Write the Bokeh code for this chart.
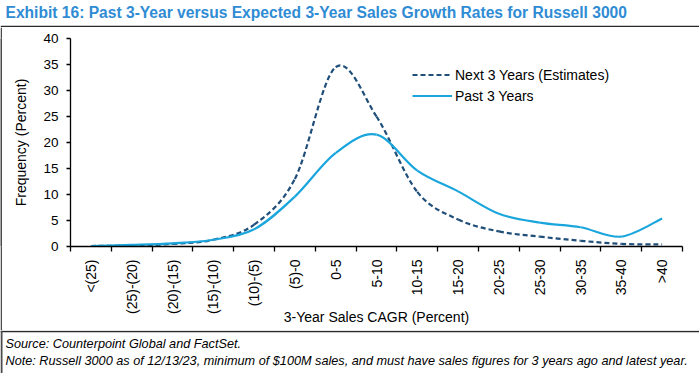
import math
from bokeh.plotting import figure
from bokeh.layouts import column, row
from bokeh.models import (Range1d, FixedTicker, Label, Span, Legend, LegendItem,
                          ColumnDataSource)
from bokeh.embed import file_html
from bokeh.resources import INLINE

# ---- data ----
categories = ["<(25)", "(25)-(20)", "(20)-(15)", "(15)-(10)", "(10)-(5)", "(5)-0",
              "0-5", "5-10", "10-15", "15-20", "20-25", "25-30", "30-35", "35-40", ">40"]
next_3_years = [0.1, 0.2, 0.5, 1.3, 4.2, 13.0, 34.5, 25.0, 10.5, 5.2, 2.9, 1.9, 1.1, 0.5, 0.4]
past_3_years = [0.1, 0.3, 0.6, 1.3, 3.3, 9.6, 18.0, 21.5, 14.6, 10.6, 6.3, 4.6, 3.7, 1.9, 5.4]
y_ticks = [0, 5, 10, 15, 20, 25, 30, 35, 40]

title_text = "Exhibit 16: Past 3-Year versus Expected 3-Year Sales Growth Rates for Russell 3000"
source_text = "Source: Counterpoint Global and FactSet."
note_text = ("Note: Russell 3000 as of 12/13/23, minimum of $100M sales, and must have sales "
             "figures for 3 years ago and latest year.")

FONT = "Liberation Sans"
DARK = "#1F4E79"
LIGHT = "#1AA6DC"
TITLE_BLUE = "#2F8CD4"
RULE = "#2a2a2a"


def smooth_segments(vals):
    """Bezier segments (Excel-like smoothed line) through the category points."""
    n = len(vals)
    xs = list(range(n))
    d = dict(x0=[], y0=[], x1=[], y1=[], cx0=[], cy0=[], cx1=[], cy1=[])
    for i in range(n - 1):
        im1 = max(i - 1, 0)
        ip2 = min(i + 2, n - 1)
        d["x0"].append(xs[i]); d["y0"].append(vals[i])
        d["x1"].append(xs[i + 1]); d["y1"].append(vals[i + 1])
        d["cx0"].append(xs[i] + (xs[i + 1] - xs[im1]) / 6.0)
        d["cy0"].append(vals[i] + (vals[i + 1] - vals[im1]) / 6.0)
        d["cx1"].append(xs[i + 1] - (xs[ip2] - xs[i]) / 6.0)
        d["cy1"].append(vals[i + 1] - (vals[ip2] - vals[i]) / 6.0)
    return ColumnDataSource(d)


def blank(w, h, fill="white"):
    f = figure(width=w, height=h, x_range=Range1d(0, w), y_range=Range1d(0, h),
               x_axis_type=None, y_axis_type=None, output_backend="svg",
               toolbar_location=None, title=None, min_border=0,
               background_fill_color=fill, border_fill_color=fill)
    f.outline_line_color = None
    return f


# ---- header: title + rule ----
header = blank(699, 27)
header.add_layout(Label(x=5, y=15, text=title_text, text_font=FONT, text_font_style="bold",
                        text_font_size="15.6px", text_color=TITLE_BLUE,
                        text_baseline="middle", text_align="left"))
header.add_layout(Span(location=1, dimension="width", line_color=RULE, line_width=1.5))

# ---- left rule ----
vbar = blank(2, 303, fill="#4a4a4a")

# ---- main chart ----
p = figure(width=697, height=303, x_range=Range1d(-0.5, len(categories) - 0.5),
           y_range=Range1d(0, 40), output_backend="svg", toolbar_location=None,
           title=None, min_border_left=68, min_border_right=17, min_border_top=11,
           min_border_bottom=84, background_fill_color="white", border_fill_color="white")
p.outline_line_color = None
p.xgrid.visible = False
p.ygrid.visible = False

r_next = p.bezier(x0="x0", y0="y0", x1="x1", y1="y1", cx0="cx0", cy0="cy0",
                  cx1="cx1", cy1="cy1", source=smooth_segments(next_3_years),
                  line_color=DARK, line_width=2.2, line_dash="5 3")
r_past = p.bezier(x0="x0", y0="y0", x1="x1", y1="y1", cx0="cx0", cy0="cy0",
                  cx1="cx1", cy1="cy1", source=smooth_segments(past_3_years),
                  line_color=LIGHT, line_width=2.2)

ya = p.yaxis[0]
ya.ticker = FixedTicker(ticks=y_ticks)
ya.major_tick_in = 0
ya.major_tick_out = 4
ya.minor_tick_line_color = None
ya.axis_line_width = 1.3
ya.major_tick_line_width = 1.3
ya.axis_line_color = "black"
ya.major_tick_line_color = "black"
ya.major_label_text_font = FONT
ya.major_label_text_font_size = "13.5px"
ya.major_label_text_color = "black"
ya.major_label_standoff = 8
ya.axis_label = "Frequency (Percent)"
ya.axis_label_text_font = FONT
ya.axis_label_text_font_size = "14px"
ya.axis_label_text_font_style = "normal"
ya.axis_label_text_color = "black"
ya.axis_label_standoff = 11

xa = p.xaxis[0]
xa.ticker = FixedTicker(ticks=list(range(len(categories))),
                        minor_ticks=[i - 0.5 for i in range(len(categories) + 1)])
xa.major_label_overrides = {i: c for i, c in enumerate(categories)}
xa.major_tick_line_color = None
xa.major_tick_out = 0
xa.major_tick_in = 0
xa.minor_tick_in = 0
xa.minor_tick_out = 5
xa.minor_tick_line_color = "black"
xa.minor_tick_line_width = 1.3
xa.axis_line_width = 1.3
xa.axis_line_color = "black"
xa.major_label_orientation = math.pi / 2
xa.major_label_standoff = 8
xa.major_label_text_font = FONT
xa.major_label_text_font_size = "14px"
xa.major_label_text_color = "black"
xa.axis_label = "3-Year Sales CAGR (Percent)"
xa.axis_label_text_font = FONT
xa.axis_label_text_font_size = "14px"
xa.axis_label_text_font_style = "normal"
xa.axis_label_text_color = "black"
xa.axis_label_standoff = -8

legend = Legend(items=[LegendItem(label="Next 3 Years (Estimates)", renderers=[r_next]),
                       LegendItem(label="Past 3 Years", renderers=[r_past])],
                location=(342, 140), background_fill_alpha=0, border_line_color=None,
                padding=0, margin=0, spacing=0, glyph_width=40, glyph_height=21,
                label_height=21, label_standoff=3, label_text_font=FONT,
                label_text_font_size="14px", label_text_color="black")
p.add_layout(legend)

# ---- footer: rule + source/note ----
footer = blank(699, 43)
footer.add_layout(Span(location=42, dimension="width", line_color=RULE, line_width=1.5))
footer.add_layout(Span(location=1, dimension="height", line_color="#4a4a4a", line_width=2))
footer.add_layout(Label(x=5, y=30, text=source_text, text_font=FONT, text_font_style="italic",
                        text_font_size="12.7px", text_color="black",
                        text_baseline="middle", text_align="left"))
footer.add_layout(Label(x=5, y=13, text=note_text, text_font=FONT, text_font_style="italic",
                        text_font_size="12.7px", text_color="black",
                        text_baseline="middle", text_align="left"))

layout = column(header, row(vbar, p, spacing=0), footer, spacing=0)

open("out.html", "w").write(file_html(layout, INLINE))
